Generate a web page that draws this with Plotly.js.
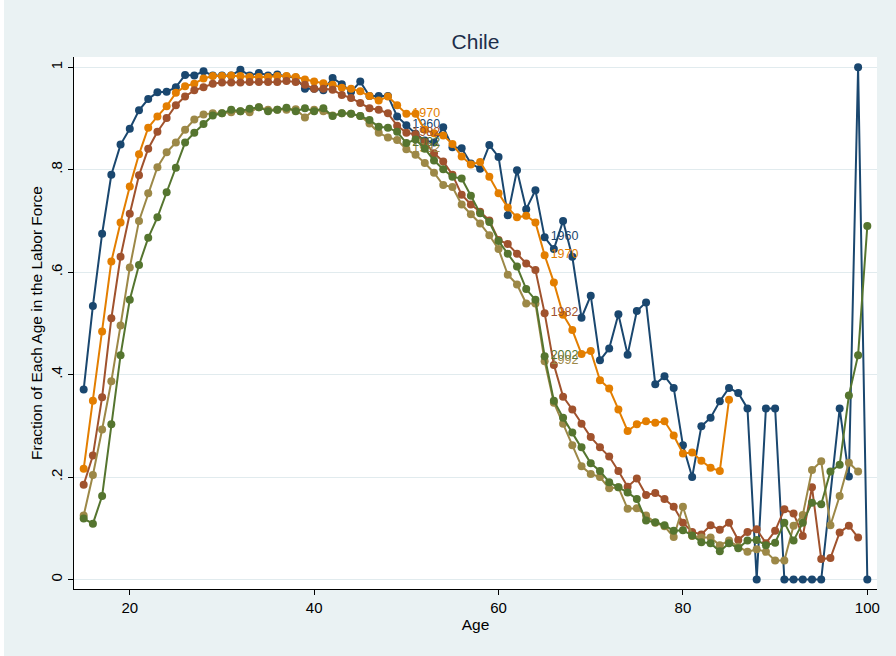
<!DOCTYPE html>
<html>
<head>
<meta charset="utf-8">
<script src="https://cdn.plot.ly/plotly-3.0.1.min.js"></script>
<style>html,body{margin:0;padding:0;background:#fff;}#chart{width:896px;height:656px;}</style>
</head>
<body>
<div id="chart"></div>
<script>
// Ages 15..100
const ages = [15,16,17,18,19,20,21,22,23,24,25,26,27,28,29,30,31,32,33,34,35,36,37,38,39,40,41,42,43,44,45,46,47,48,49,50,51,52,53,54,55,56,57,58,59,60,61,62,63,64,65,66,67,68,69,70,71,72,73,74,75,76,77,78,79,80,81,82,83,84,85,86,87,88,89,90,91,92,93,94,95,96,97,98,99,100];

const years = ["1960","1970","1982","1992","2002"];
const labelAges = [50, 65];

const lf1960 = [0.371,0.534,0.675,0.790,0.849,0.880,0.916,0.938,0.951,0.952,0.961,0.985,0.984,0.992,0.984,0.984,0.984,0.995,0.984,0.989,0.984,0.986,0.982,0.980,0.958,0.958,0.955,0.979,0.967,0.952,0.972,0.944,0.944,0.944,0.904,0.887,0.870,0.857,0.853,0.883,0.844,0.842,0.812,0.802,0.848,0.825,0.711,0.799,0.723,0.760,0.668,0.645,0.700,0.630,0.511,0.554,0.428,0.451,0.518,0.439,0.524,0.541,0.381,0.397,0.374,0.262,0.200,0.299,0.316,0.348,0.374,0.364,0.334,0,0.334,0.334,0,0,0,0,0,null,0.334,0.201,1.0,0];

const lf1970 = [0.216,0.349,0.484,0.621,0.697,0.767,0.830,0.882,0.904,0.924,0.950,0.963,0.968,0.978,0.983,0.983,0.984,0.983,0.981,0.981,0.981,0.983,0.983,0.981,0.976,0.972,0.969,0.966,0.960,0.958,0.953,0.944,0.935,0.943,0.926,0.909,0.909,0.878,0.871,0.867,0.850,0.826,0.810,0.815,0.786,0.754,0.726,0.707,0.710,0.697,0.633,0.580,0.517,0.487,0.440,0.446,0.389,0.373,0.332,0.290,0.303,0.309,0.306,0.309,0.281,0.246,0.248,0.232,0.218,0.212,0.351,null,null,null,null,null,null,null,null,null,null,null,null,null,null,null];

const lf1982 = [0.185,0.242,0.356,0.510,0.630,0.714,0.789,0.841,0.874,0.901,0.926,0.943,0.955,0.961,0.968,0.970,0.970,0.970,0.971,0.971,0.971,0.971,0.973,0.971,0.966,0.958,0.958,0.956,0.946,0.940,0.930,0.920,0.917,0.910,0.886,0.872,0.869,0.854,0.832,0.816,0.790,0.751,0.732,0.718,0.701,0.663,0.655,0.636,0.617,0.604,0.520,0.419,0.357,0.332,0.304,0.278,0.258,0.240,0.212,0.181,0.197,0.165,0.169,0.157,0.142,0.111,0.093,0.088,0.106,0.097,0.111,0.077,0.093,0.098,0.071,0.095,0.137,0.129,0.085,0.180,0.040,0.042,0.092,0.105,0.082,null];

const lf1992 = [0.125,0.204,0.293,0.387,0.496,0.609,0.700,0.754,0.805,0.834,0.853,0.878,0.898,0.908,0.910,0.910,0.912,0.914,0.912,0.922,0.917,0.917,0.917,0.918,0.902,0.917,0.914,0.906,0.910,0.909,0.905,0.890,0.872,0.863,0.858,0.840,0.829,0.813,0.794,0.770,0.766,0.732,0.713,0.695,0.672,0.645,0.595,0.576,0.539,0.539,0.426,0.345,0.304,0.262,0.221,0.206,0.200,0.178,0.180,0.138,0.139,0.125,0.111,0.104,0.083,0.142,0.085,0.082,0.082,0.067,0.076,0.064,0.054,0.059,0.054,0.037,0.037,0.105,0.126,0.214,0.231,0.106,0.163,0.228,0.211,null];

const lf2002 = [0.119,0.109,0.163,0.303,0.438,0.546,0.614,0.667,0.707,0.756,0.804,0.853,0.872,0.889,0.906,0.910,0.917,0.914,0.919,0.922,0.914,0.917,0.921,0.914,0.920,0.914,0.920,0.905,0.910,0.909,0.905,0.897,0.884,0.882,0.874,0.852,0.859,0.841,0.818,0.801,0.786,0.783,0.749,0.715,0.698,0.661,0.636,0.611,0.567,0.546,0.436,0.349,0.316,0.287,0.258,0.227,0.212,0.190,0.180,0.170,0.157,0.115,0.112,0.106,0.095,0.096,0.086,0.073,0.071,0.055,0.071,0.061,0.076,0.077,0.067,0.072,0.111,0.076,0.111,0.150,0.147,0.211,0.224,0.359,0.438,0.690];

const yTickVals = [0,0.2,0.4,0.6,0.8,1];
const yTickText = ["0",".2",".4",".6",".8","1"];
const xTickVals = [20,40,60,80,100];

const seriesValues = [lf1960, lf1970, lf1982, lf1992, lf2002];
const colors = ["#1a476f","#e37e00","#a0522d","#9c8847","#55752f"];
const FONT = "Liberation Sans, Arial, Helvetica, sans-serif";

const traces = seriesValues.map((vals, i) => ({
  x: ages,
  y: vals,
  type: "scatter",
  mode: "lines+markers+text",
  name: years[i],
  connectgaps: true,
  line: {color: colors[i], width: 2},
  marker: {color: colors[i], size: 8},
  text: ages.map(a => labelAges.includes(a) ? years[i] : ""),
  textposition: "middle right",
  textfont: {family: FONT, size: 12.5, color: colors[i]},
  cliponaxis: false,
  hoverinfo: "x+y+name"
}));

const layout = {
  width: 896, height: 656,
  margin: {l: 74, r: 19, t: 57, b: 67},
  paper_bgcolor: "#eaf2f3",
  plot_bgcolor: "#ffffff",
  showlegend: false,
  font: {family: FONT, size: 15, color: "#000"},
  title: {text: "Chile", font: {family: FONT, size: 21, color: "#1c2e4a"}, x: 0.5, xref: "paper", y: 1 - 42/656, yref: "container", yanchor: "middle"},
  xaxis: {
    range: [13.95, 101.05], tickvals: xTickVals, ticks: "outside", ticklen: 5, tickcolor: "#000",
    showline: true, linecolor: "#000", linewidth: 1, showgrid: false, zeroline: false,
    tickfont: {family: FONT, size: 15, color: "#000"},
    title: {text: "Age", font: {family: FONT, size: 15.5, color: "#000"}, standoff: 4}
  },
  yaxis: {
    range: [-0.0185, 1.02], tickvals: yTickVals, ticktext: yTickText, tickangle: -90,
    ticks: "outside", ticklen: 5, tickcolor: "#000",
    showline: true, linecolor: "#000", linewidth: 1, showgrid: true, gridcolor: "#e1ebee", gridwidth: 1, zeroline: false,
    tickfont: {family: FONT, size: 15, color: "#000"},
    title: {text: "Fraction of Each Age in the Labor Force", font: {family: FONT, size: 15.5, color: "#000"}, standoff: 1}
  },
  shapes: [
    {type: "rect", xref: "paper", yref: "paper", x0: -74/803, x1: -70/803, y0: -67/532, y1: 589/532, fillcolor: "#ffffff", line: {width: 0}, layer: "below"},
    {type: "rect", xref: "paper", yref: "paper", x0: -74/803, x1: 822/803, y0: 594/532, y1: 589/532, fillcolor: "#ffffff", line: {width: 0}, layer: "below"}
  ]
};

Plotly.newPlot("chart", traces, layout, {displayModeBar: false, staticPlot: true});
</script>
</body>
</html>
